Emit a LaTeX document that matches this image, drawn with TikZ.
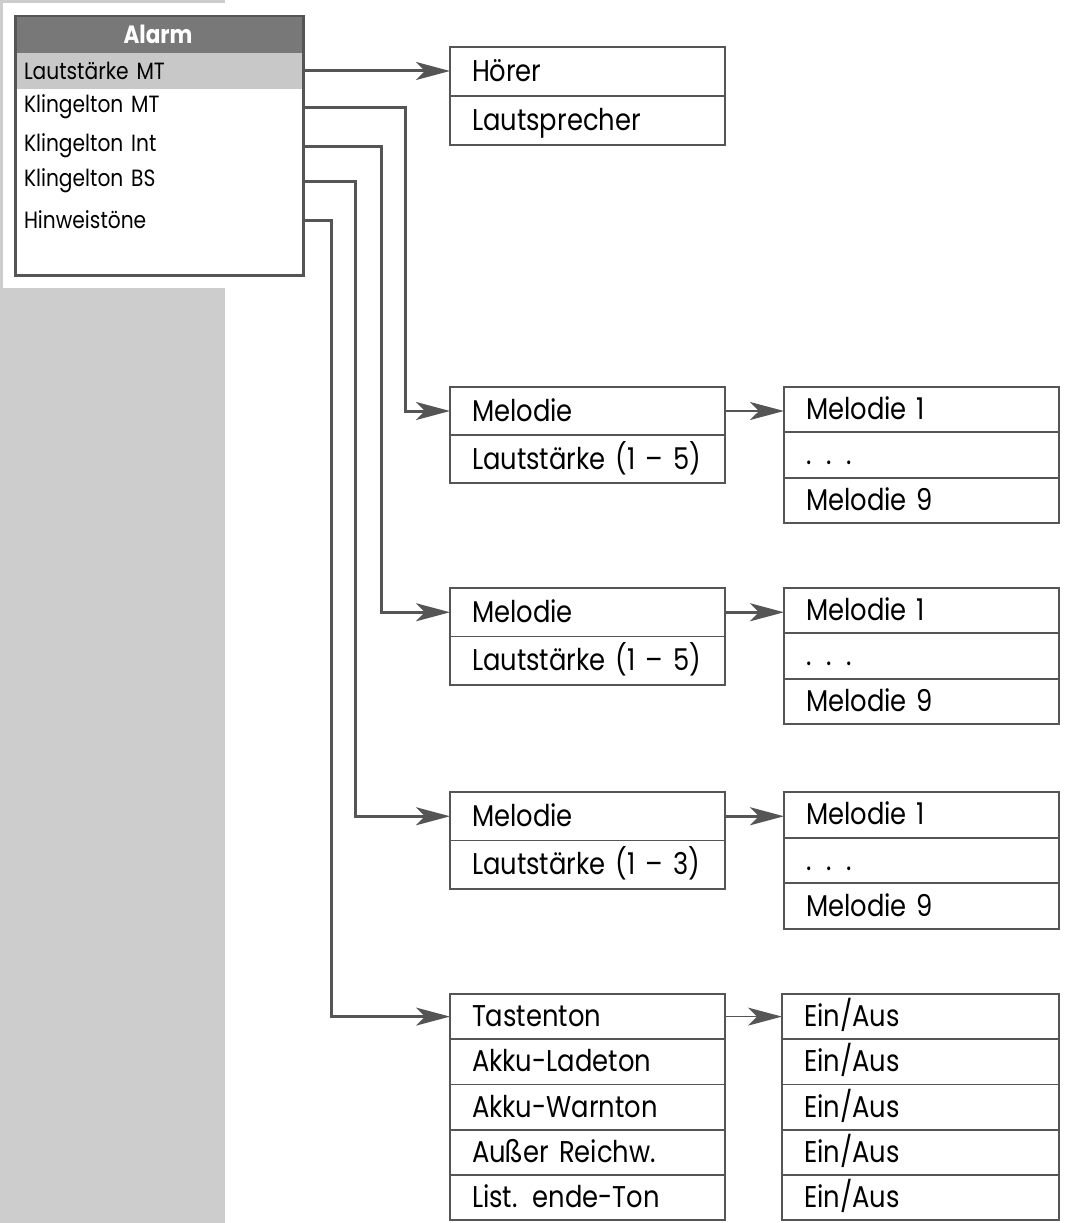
\documentclass[tikz,border=0pt]{standalone}
\usepackage{fontspec}
\setmainfont{Poppins}[FakeStretch=0.86]
\usetikzlibrary{positioning,arrows.meta}
\definecolor{linegray}{HTML}{555555}
\definecolor{headgray}{HTML}{787878}
\definecolor{hlgray}{HTML}{C8C8C8}
\definecolor{bggray}{HTML}{CDCDCD}
\def\cellfont{\fontsize{30}{30}\selectfont}
\def\menufont{\fontsize{23.5}{23.5}\selectfont}
\tikzset{
  cell/.style={draw=linegray, line width=1.8pt, outer sep=0pt, text width=231pt,
    inner xsep=22pt, inner ysep=0pt, minimum height=48pt, align=left,
    font=\cellfont, text height=21pt, text depth=1pt},
  rcell/.style={cell, minimum height=45.3pt},
  lcell/.style={cell, minimum height=45.2pt},
  menurow/.style={outer sep=0pt, text width=268pt, inner xsep=10pt, inner ysep=0pt,
    minimum height=35pt, align=left, font=\menufont, anchor=west},
  conn/.style={draw=linegray, line width=3pt, -{Stealth[length=34pt,width=18pt,inset=9pt]}},
  thinconn/.style={conn, line width=1.6pt}
}
\begin{document}
\begin{tikzpicture}[x=1pt,y=-1pt]
  \useasboundingbox (0,0) rectangle (1067,1223);
  % background
  \fill[bggray] (0,0) rectangle (225,1223);
  \fill[white] (3,3) rectangle (310,288);

  % menu
  \node[fill=headgray, outer sep=0pt, minimum width=288pt, minimum height=38pt,
    anchor=north west, text=white, font=\fontsize{25}{25}\selectfont\bfseries] (alarm) at (14,15) {Alarm};
  \node[menurow, fill=hlgray] (r1) at (14,71) {Lautstärke MT};
  \node[menurow] (r2) at (14,107) {Klingelton MT};
  \node[menurow] (r3) at (14,146) {Klingelton Int};
  \node[menurow] (r4) at (14,181) {Klingelton BS};
  \node[menurow] (r5) at (14,220) {Hinweistöne};
  \node[draw=linegray, line width=2.5pt, minimum width=288pt, minimum height=259pt,
    anchor=north west] (menu) at (14,15) {};

  % first column
  \node[cell, minimum height=49pt, anchor=north west] (hoerer) at (450,47) {Hörer};
  \node[cell, minimum height=49pt, below=0pt of hoerer] (lautspr) {Lautsprecher};

  \node[cell, anchor=north west] (mel1) at (450,387) {Melodie};
  \node[cell, below=0pt of mel1] (vol1) {Lautstärke (1 – 5)};

  \node[cell, minimum height=48.5pt, anchor=north west] (mel2) at (450,588) {Melodie};
  \node[cell, minimum height=48.5pt, below=0pt of mel2] (vol2) {Lautstärke (1 – 5)};

  \node[cell, minimum height=48.5pt, anchor=north west] (mel3) at (450,792) {Melodie};
  \node[cell, minimum height=48.5pt, below=0pt of mel3] (vol3) {Lautstärke (1 – 3)};

  \node[lcell, anchor=north west] (taste) at (450,994) {Tastenton};
  \node[lcell, below=0pt of taste] (lade) {Akku-Ladeton};
  \node[lcell, below=0pt of lade] (warn) {Akku-Warnton};
  \node[lcell, below=0pt of warn] (reichw) {Außer Reichw.};
  \node[lcell, below=0pt of reichw] (ende) {List. ende-Ton};

  % second column
  \node[rcell, anchor=north west] (a1) at (784,387) {Melodie 1};
  \node[rcell, below=0pt of a1] (a2) {. . .};
  \node[rcell, below=0pt of a2] (a3) {Melodie 9};

  \node[rcell, anchor=north west] (b1) at (784,588) {Melodie 1};
  \node[rcell, below=0pt of b1] (b2) {. . .};
  \node[rcell, below=0pt of b2] (b3) {Melodie 9};

  \node[rcell, minimum height=45.6pt, anchor=north west] (c1) at (784,792) {Melodie 1};
  \node[rcell, minimum height=45.6pt, below=0pt of c1] (c2) {. . .};
  \node[rcell, minimum height=45.6pt, below=0pt of c2] (c3) {Melodie 9};

  \node[lcell, text width=233pt, anchor=north west] (e1) at (782,994) {Ein/Aus};
  \node[lcell, text width=233pt, below=0pt of e1] (e2) {Ein/Aus};
  \node[lcell, text width=233pt, below=0pt of e2] (e3) {Ein/Aus};
  \node[lcell, text width=233pt, below=0pt of e3] (e4) {Ein/Aus};
  \node[lcell, text width=233pt, below=0pt of e4] (e5) {Ein/Aus};

  % connectors
  \draw[conn] (r1.east) -- (r1.east -| hoerer.west);
  \draw[conn] (r2.east) -- ++(103,0) |- (mel1.west);
  \draw[conn] (r3.east) -- ++(79,0) |- (mel2.west);
  \draw[conn] (r4.east) -- ++(53,0) |- (mel3.west);
  \draw[conn] (r5.east) -- ++(29,0) |- (taste.west);

  \draw[thinconn] (mel1.east) -- (mel1.east -| a1.west);
  \draw[conn] (mel2.east) -- (mel2.east -| b1.west);
  \draw[conn] (mel3.east) -- (mel3.east -| c1.west);
  \draw[thinconn] (taste.east) -- (e1.west);
\end{tikzpicture}
\end{document}
